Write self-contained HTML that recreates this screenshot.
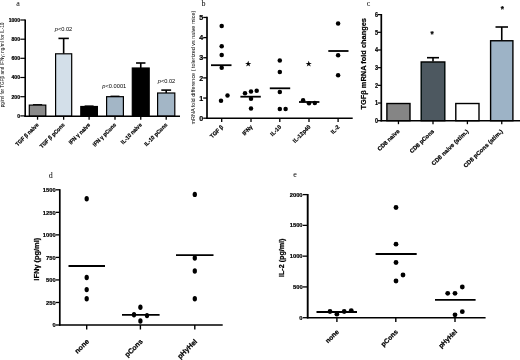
<!DOCTYPE html>
<html><head><meta charset="utf-8"><title>Figure</title>
<style>
html,body{margin:0;padding:0;background:#fff}
svg{display:block}
text{fill:#000}
.s{font-family:"Liberation Sans",sans-serif}
.b{font-weight:bold;stroke:#000;stroke-width:0.22px}
.r{font-family:"Liberation Serif",serif}
.d{font-family:"DejaVu Sans",sans-serif}
ellipse{fill:#000}
</style></head>
<body>
<svg width="520" height="360" viewBox="0 0 520 360">
<defs><filter id="soft" x="0" y="0" width="520" height="360" filterUnits="userSpaceOnUse"><feGaussianBlur stdDeviation="0.45"/></filter></defs>
<rect x="0" y="0" width="520" height="360" fill="#fff"/>
<g filter="url(#soft)">
<g id="panel-a">
<text class="r" x="16.3" y="6.2" font-size="8">a</text>
<line x1="37.55" y1="104.9" x2="37.55" y2="105.1" stroke="#000" stroke-width="1.6"/>
<line x1="32.95" y1="104.9" x2="42.15" y2="104.9" stroke="#000" stroke-width="1.6"/>
<rect x="29.3" y="105.1" width="16.5" height="11.1" fill="#8a8a8a" stroke="#000" stroke-width="1.2"/>
<line x1="37.55" y1="116.2" x2="37.55" y2="119.7" stroke="#000" stroke-width="1.3"/>
<text class="s b" transform="translate(39.05 125.3) rotate(-45) scale(0.920 1)" font-size="5.7" text-anchor="end">TGF β naive</text>
<line x1="63.65" y1="38.4" x2="63.65" y2="53.8" stroke="#000" stroke-width="1.6"/>
<line x1="58.45" y1="38.4" x2="68.85" y2="38.4" stroke="#000" stroke-width="1.6"/>
<rect x="55.6" y="53.8" width="16.1" height="62.4" fill="#d3dfe9" stroke="#000" stroke-width="1.2"/>
<line x1="63.65" y1="116.2" x2="63.65" y2="119.7" stroke="#000" stroke-width="1.3"/>
<text class="s b" transform="translate(65.15 125.3) rotate(-45) scale(0.920 1)" font-size="5.7" text-anchor="end">TGF β pCons</text>
<line x1="89.1" y1="106.2" x2="89.1" y2="106.5" stroke="#000" stroke-width="1.6"/>
<line x1="84.6" y1="106.2" x2="93.6" y2="106.2" stroke="#000" stroke-width="1.6"/>
<rect x="80.8" y="106.5" width="16.6" height="9.7" fill="#000" stroke="#000" stroke-width="1.2"/>
<line x1="89.1" y1="116.2" x2="89.1" y2="119.7" stroke="#000" stroke-width="1.3"/>
<text class="s b" transform="translate(90.6 125.3) rotate(-45) scale(0.920 1)" font-size="5.7" text-anchor="end">IFN γ naive</text>
<line x1="115" y1="96.4" x2="115" y2="96.7" stroke="#000" stroke-width="1.6"/>
<line x1="110.5" y1="96.4" x2="119.5" y2="96.4" stroke="#000" stroke-width="1.6"/>
<rect x="106.6" y="96.7" width="16.8" height="19.5" fill="#a3b6c6" stroke="#000" stroke-width="1.2"/>
<line x1="115" y1="116.2" x2="115" y2="119.7" stroke="#000" stroke-width="1.3"/>
<text class="s b" transform="translate(116.5 125.3) rotate(-45) scale(0.920 1)" font-size="5.7" text-anchor="end">IFN γ pCons</text>
<line x1="140.75" y1="63" x2="140.75" y2="68" stroke="#000" stroke-width="1.6"/>
<line x1="136.05" y1="63" x2="145.45" y2="63" stroke="#000" stroke-width="1.6"/>
<rect x="132.3" y="68" width="16.9" height="48.2" fill="#000" stroke="#000" stroke-width="1.2"/>
<line x1="140.75" y1="116.2" x2="140.75" y2="119.7" stroke="#000" stroke-width="1.3"/>
<text class="s b" transform="translate(142.25 125.3) rotate(-45) scale(0.920 1)" font-size="5.7" text-anchor="end">IL-10 naive</text>
<line x1="166.2" y1="90.1" x2="166.2" y2="93" stroke="#000" stroke-width="1.6"/>
<line x1="161.3" y1="90.1" x2="171.1" y2="90.1" stroke="#000" stroke-width="1.6"/>
<rect x="157.6" y="93" width="17.2" height="23.2" fill="#a3b6c6" stroke="#000" stroke-width="1.2"/>
<line x1="166.2" y1="116.2" x2="166.2" y2="119.7" stroke="#000" stroke-width="1.3"/>
<text class="s b" transform="translate(167.7 125.3) rotate(-45) scale(0.920 1)" font-size="5.7" text-anchor="end">IL-10 pCons</text>
<line x1="25.2" y1="19.4" x2="25.2" y2="116.9" stroke="#000" stroke-width="1.6"/>
<line x1="24.4" y1="116.2" x2="180" y2="116.2" stroke="#000" stroke-width="1.5"/>
<line x1="20.3" y1="20" x2="25.2" y2="20" stroke="#000" stroke-width="1.2"/>
<text class="s b" transform="translate(20 21.9) scale(0.940 1)" font-size="5.4" text-anchor="end">1000</text>
<line x1="20.3" y1="39.2" x2="25.2" y2="39.2" stroke="#000" stroke-width="1.2"/>
<text class="s b" transform="translate(20 41.1) scale(0.940 1)" font-size="5.4" text-anchor="end">800</text>
<line x1="20.3" y1="58.3" x2="25.2" y2="58.3" stroke="#000" stroke-width="1.2"/>
<text class="s b" transform="translate(20 60.2) scale(0.940 1)" font-size="5.4" text-anchor="end">600</text>
<line x1="20.3" y1="77.5" x2="25.2" y2="77.5" stroke="#000" stroke-width="1.2"/>
<text class="s b" transform="translate(20 79.4) scale(0.940 1)" font-size="5.4" text-anchor="end">400</text>
<line x1="20.3" y1="96.7" x2="25.2" y2="96.7" stroke="#000" stroke-width="1.2"/>
<text class="s b" transform="translate(20 98.6) scale(0.940 1)" font-size="5.4" text-anchor="end">200</text>
<line x1="20.3" y1="115.9" x2="25.2" y2="115.9" stroke="#000" stroke-width="1.2"/>
<text class="s b" transform="translate(20 117.8) scale(0.940 1)" font-size="5.4" text-anchor="end">0</text>
<text class="s" transform="translate(4.2 64.9) rotate(-90) scale(0.923 1)" font-size="5.1" text-anchor="middle">pg/ml for TGFβ and IFNγ; ng/ml for IL-10</text>
<text class="s" x="63.5" y="31" font-size="5.7" text-anchor="middle"><tspan font-style="italic">p</tspan>&lt;0.02</text>
<text class="s" x="114.3" y="88.4" font-size="5.7" text-anchor="middle"><tspan font-style="italic">p</tspan>&lt;0.0001</text>
<text class="s" x="166.5" y="83" font-size="5.7" text-anchor="middle"><tspan font-style="italic">p</tspan>&lt;0.02</text>
</g>
<g id="panel-b">
<text class="r" x="201.5" y="6" font-size="8">b</text>
<line x1="203.2" y1="118.2" x2="207" y2="118.2" stroke="#000" stroke-width="1.3"/>
<text class="s b" transform="translate(203.1 120.85) scale(0.950 1)" font-size="7.5" text-anchor="end">0</text>
<line x1="203.2" y1="98.05" x2="207" y2="98.05" stroke="#000" stroke-width="1.3"/>
<text class="s b" transform="translate(203.1 100.7) scale(0.950 1)" font-size="7.5" text-anchor="end">1</text>
<line x1="203.2" y1="77.9" x2="207" y2="77.9" stroke="#000" stroke-width="1.3"/>
<text class="s b" transform="translate(203.1 80.55) scale(0.950 1)" font-size="7.5" text-anchor="end">2</text>
<line x1="203.2" y1="57.75" x2="207" y2="57.75" stroke="#000" stroke-width="1.3"/>
<text class="s b" transform="translate(203.1 60.4) scale(0.950 1)" font-size="7.5" text-anchor="end">3</text>
<line x1="203.2" y1="37.6" x2="207" y2="37.6" stroke="#000" stroke-width="1.3"/>
<text class="s b" transform="translate(203.1 40.25) scale(0.950 1)" font-size="7.5" text-anchor="end">4</text>
<line x1="203.2" y1="17.45" x2="207" y2="17.45" stroke="#000" stroke-width="1.3"/>
<text class="s b" transform="translate(203.1 20.1) scale(0.950 1)" font-size="7.5" text-anchor="end">5</text>
<line x1="207" y1="16.85" x2="207" y2="118.9" stroke="#000" stroke-width="1.7"/>
<line x1="206.2" y1="118.2" x2="352.7" y2="118.2" stroke="#000" stroke-width="1.5"/>
<ellipse cx="221.7" cy="26" rx="2.25" ry="2.25"/>
<ellipse cx="221.7" cy="46.3" rx="2.25" ry="2.25"/>
<ellipse cx="221.7" cy="55" rx="2.25" ry="2.25"/>
<ellipse cx="221.7" cy="67.7" rx="2.25" ry="2.25"/>
<ellipse cx="227.5" cy="95.4" rx="2.25" ry="2.25"/>
<ellipse cx="221" cy="100.8" rx="2.25" ry="2.25"/>
<line x1="211" y1="65.2" x2="231.5" y2="65.2" stroke="#000" stroke-width="1.8"/>
<line x1="221.7" y1="118.2" x2="221.7" y2="121.9" stroke="#000" stroke-width="1.3"/>
<text class="s b" transform="translate(223.6 127.3) rotate(-45) scale(0.970 1)" font-size="5.7" text-anchor="end">TGF β</text>
<ellipse cx="245" cy="93.3" rx="2.25" ry="2.25"/>
<ellipse cx="251" cy="91.5" rx="2.25" ry="2.25"/>
<ellipse cx="256.7" cy="90.8" rx="2.25" ry="2.25"/>
<ellipse cx="251" cy="98.8" rx="2.25" ry="2.25"/>
<ellipse cx="251" cy="108.5" rx="2.25" ry="2.25"/>
<line x1="240.4" y1="96.7" x2="260.8" y2="96.7" stroke="#000" stroke-width="1.8"/>
<line x1="251" y1="118.2" x2="251" y2="121.9" stroke="#000" stroke-width="1.3"/>
<text class="s b" transform="translate(252.9 127.3) rotate(-45) scale(0.970 1)" font-size="5.7" text-anchor="end">IFNγ</text>
<ellipse cx="279.8" cy="60.4" rx="2.25" ry="2.25"/>
<ellipse cx="279.8" cy="72" rx="2.25" ry="2.25"/>
<ellipse cx="279.8" cy="91.9" rx="2.25" ry="2.25"/>
<ellipse cx="279.8" cy="109" rx="2.25" ry="2.25"/>
<ellipse cx="285.6" cy="109" rx="2.25" ry="2.25"/>
<line x1="269.8" y1="88.3" x2="290.2" y2="88.3" stroke="#000" stroke-width="1.8"/>
<line x1="279.8" y1="118.2" x2="279.8" y2="121.9" stroke="#000" stroke-width="1.3"/>
<text class="s b" transform="translate(281.7 127.3) rotate(-45) scale(0.970 1)" font-size="5.7" text-anchor="end">IL-10</text>
<ellipse cx="303.1" cy="100.2" rx="2.25" ry="2.25"/>
<ellipse cx="309" cy="103.3" rx="2.25" ry="2.25"/>
<ellipse cx="314.8" cy="103" rx="2.25" ry="2.25"/>
<line x1="299" y1="102" x2="319.4" y2="102" stroke="#000" stroke-width="1.8"/>
<line x1="309" y1="118.2" x2="309" y2="121.9" stroke="#000" stroke-width="1.3"/>
<text class="s b" transform="translate(310.9 127.3) rotate(-45) scale(0.970 1)" font-size="5.7" text-anchor="end">IL-12p40</text>
<ellipse cx="338.1" cy="23.5" rx="2.25" ry="2.25"/>
<ellipse cx="338.1" cy="55.2" rx="2.25" ry="2.25"/>
<ellipse cx="338.1" cy="75.2" rx="2.25" ry="2.25"/>
<line x1="328.3" y1="51" x2="348.5" y2="51" stroke="#000" stroke-width="1.8"/>
<line x1="338.1" y1="118.2" x2="338.1" y2="121.9" stroke="#000" stroke-width="1.3"/>
<text class="s b" transform="translate(340 127.3) rotate(-45) scale(0.970 1)" font-size="5.7" text-anchor="end">IL-2</text>
<text class="d" x="248.3" y="66.2" font-size="6.6" stroke="#000" stroke-width="0.35" text-anchor="middle">★</text>
<text class="d" x="308.6" y="66.2" font-size="6.6" stroke="#000" stroke-width="0.35" text-anchor="middle">★</text>
<text class="s" transform="translate(195.1 67.6) rotate(-90) scale(1.017 1)" font-size="5.4" text-anchor="middle">mRNA fold difference ( tolerized vs naive mice)</text>
</g>
<g id="panel-c">
<text class="r" x="366.8" y="5.8" font-size="8">c</text>
<rect x="386.9" y="103.52" width="23.1" height="17.18" fill="#858585" stroke="#000" stroke-width="1.4"/>
<line x1="398.45" y1="120.7" x2="398.45" y2="124.2" stroke="#000" stroke-width="1.3"/>
<text class="s b" transform="translate(399.95 131.8) rotate(-44)" font-size="5.8" text-anchor="end">CD8 naive</text>
<line x1="433" y1="57.7" x2="433" y2="61.47" stroke="#000" stroke-width="1.6"/>
<line x1="427" y1="57.7" x2="439" y2="57.7" stroke="#000" stroke-width="1.6"/>
<rect x="421.2" y="61.97" width="23.6" height="58.73" fill="#4e5860" stroke="#000" stroke-width="1.4"/>
<line x1="433" y1="120.7" x2="433" y2="124.2" stroke="#000" stroke-width="1.3"/>
<text class="s b" transform="translate(434.5 131.8) rotate(-44)" font-size="5.8" text-anchor="end">CD8 pCons</text>
<rect x="455.8" y="103.52" width="23.2" height="17.18" fill="#fff" stroke="#000" stroke-width="1.4"/>
<line x1="467.4" y1="120.7" x2="467.4" y2="124.2" stroke="#000" stroke-width="1.3"/>
<text class="s b" transform="translate(468.9 131.8) rotate(-44) scale(1.040 1)" font-size="5.8" text-anchor="end">CD8 naive (stim.)</text>
<line x1="501.75" y1="27" x2="501.75" y2="40.26" stroke="#000" stroke-width="1.6"/>
<line x1="495.5" y1="27" x2="508" y2="27" stroke="#000" stroke-width="1.6"/>
<rect x="490.6" y="40.76" width="22.3" height="79.94" fill="#9db3c6" stroke="#000" stroke-width="1.4"/>
<line x1="501.75" y1="120.7" x2="501.75" y2="124.2" stroke="#000" stroke-width="1.3"/>
<text class="s b" transform="translate(503.25 131.8) rotate(-44) scale(1.040 1)" font-size="5.8" text-anchor="end">CD8 pCons (stim.)</text>
<line x1="381.3" y1="14.02" x2="381.3" y2="121.4" stroke="#000" stroke-width="1.7"/>
<line x1="380.5" y1="120.7" x2="520" y2="120.7" stroke="#000" stroke-width="1.5"/>
<line x1="377.6" y1="120.7" x2="381.3" y2="120.7" stroke="#000" stroke-width="1.2"/>
<text class="s b" transform="translate(378 123.1) scale(0.850 1)" font-size="6.4" text-anchor="end">0</text>
<line x1="377.6" y1="103.02" x2="381.3" y2="103.02" stroke="#000" stroke-width="1.2"/>
<text class="s b" transform="translate(378 105.42) scale(0.850 1)" font-size="6.4" text-anchor="end">1</text>
<line x1="377.6" y1="85.34" x2="381.3" y2="85.34" stroke="#000" stroke-width="1.2"/>
<text class="s b" transform="translate(378 87.74) scale(0.850 1)" font-size="6.4" text-anchor="end">2</text>
<line x1="377.6" y1="67.66" x2="381.3" y2="67.66" stroke="#000" stroke-width="1.2"/>
<text class="s b" transform="translate(378 70.06) scale(0.850 1)" font-size="6.4" text-anchor="end">3</text>
<line x1="377.6" y1="49.98" x2="381.3" y2="49.98" stroke="#000" stroke-width="1.2"/>
<text class="s b" transform="translate(378 52.38) scale(0.850 1)" font-size="6.4" text-anchor="end">4</text>
<line x1="377.6" y1="32.3" x2="381.3" y2="32.3" stroke="#000" stroke-width="1.2"/>
<text class="s b" transform="translate(378 34.7) scale(0.850 1)" font-size="6.4" text-anchor="end">5</text>
<line x1="377.6" y1="14.62" x2="381.3" y2="14.62" stroke="#000" stroke-width="1.2"/>
<text class="s b" transform="translate(378 17.02) scale(0.850 1)" font-size="6.4" text-anchor="end">6</text>
<text class="s b" transform="translate(432 37.1)" font-size="8.2" text-anchor="middle">*</text>
<text class="s b" transform="translate(502.3 12.1)" font-size="8.2" text-anchor="middle">*</text>
<text class="s b" transform="translate(366.3 63.8) rotate(-90) scale(1.029 1)" font-size="7.2" text-anchor="middle">TGFβ mRNA fold changes</text>
</g>
<g id="panel-d">
<text class="r" x="48.8" y="177.5" font-size="8">d</text>
<line x1="55.8" y1="325" x2="59.8" y2="325" stroke="#000" stroke-width="1.3"/>
<text class="s b" transform="translate(55.6 327.2) scale(0.930 1)" font-size="6.2" text-anchor="end">0</text>
<line x1="55.8" y1="302.47" x2="59.8" y2="302.47" stroke="#000" stroke-width="1.3"/>
<text class="s b" transform="translate(55.6 304.67) scale(0.930 1)" font-size="6.2" text-anchor="end">250</text>
<line x1="55.8" y1="279.93" x2="59.8" y2="279.93" stroke="#000" stroke-width="1.3"/>
<text class="s b" transform="translate(55.6 282.13) scale(0.930 1)" font-size="6.2" text-anchor="end">500</text>
<line x1="55.8" y1="257.4" x2="59.8" y2="257.4" stroke="#000" stroke-width="1.3"/>
<text class="s b" transform="translate(55.6 259.6) scale(0.930 1)" font-size="6.2" text-anchor="end">750</text>
<line x1="55.8" y1="234.87" x2="59.8" y2="234.87" stroke="#000" stroke-width="1.3"/>
<text class="s b" transform="translate(55.6 237.07) scale(0.930 1)" font-size="6.2" text-anchor="end">1000</text>
<line x1="55.8" y1="212.33" x2="59.8" y2="212.33" stroke="#000" stroke-width="1.3"/>
<text class="s b" transform="translate(55.6 214.53) scale(0.930 1)" font-size="6.2" text-anchor="end">1250</text>
<line x1="55.8" y1="189.8" x2="59.8" y2="189.8" stroke="#000" stroke-width="1.3"/>
<text class="s b" transform="translate(55.6 192) scale(0.930 1)" font-size="6.2" text-anchor="end">1500</text>
<line x1="59.8" y1="189.2" x2="59.8" y2="325.7" stroke="#000" stroke-width="1.7"/>
<line x1="59" y1="325" x2="222.7" y2="325" stroke="#000" stroke-width="1.5"/>
<ellipse cx="86.7" cy="198.75" rx="2.15" ry="2.7"/>
<ellipse cx="86.7" cy="277.5" rx="2.15" ry="2.7"/>
<ellipse cx="86.7" cy="289.6" rx="2.15" ry="2.7"/>
<ellipse cx="86.7" cy="298.75" rx="2.15" ry="2.7"/>
<line x1="68.5" y1="266" x2="105" y2="266" stroke="#000" stroke-width="1.8"/>
<line x1="86.7" y1="325" x2="86.7" y2="329.5" stroke="#000" stroke-width="1.4"/>
<text class="s b" transform="translate(89.5 342) rotate(-45)" font-size="7.1" text-anchor="end">none</text>
<ellipse cx="140.4" cy="307.3" rx="2.15" ry="2.7"/>
<ellipse cx="134" cy="314.8" rx="2.15" ry="2.7"/>
<ellipse cx="147" cy="315.6" rx="2.15" ry="2.7"/>
<ellipse cx="140.4" cy="321" rx="2.15" ry="2.7"/>
<line x1="122" y1="314.8" x2="159.6" y2="314.8" stroke="#000" stroke-width="1.8"/>
<line x1="140.4" y1="325" x2="140.4" y2="329.5" stroke="#000" stroke-width="1.4"/>
<text class="s b" transform="translate(143.2 342) rotate(-45)" font-size="7.1" text-anchor="end">pCons</text>
<ellipse cx="194.8" cy="194.4" rx="2.15" ry="2.7"/>
<ellipse cx="194.8" cy="258" rx="2.15" ry="2.7"/>
<ellipse cx="194.8" cy="271" rx="2.15" ry="2.7"/>
<ellipse cx="194.8" cy="298.75" rx="2.15" ry="2.7"/>
<line x1="176" y1="255.2" x2="213.5" y2="255.2" stroke="#000" stroke-width="1.8"/>
<line x1="194.8" y1="325" x2="194.8" y2="329.5" stroke="#000" stroke-width="1.4"/>
<text class="s b" transform="translate(197.6 342) rotate(-45)" font-size="7.1" text-anchor="end">pHyHel</text>
<text class="s b" transform="translate(39.2 259.2) rotate(-90) scale(1.020 1)" font-size="7.3" text-anchor="middle">IFNγ (pg/ml)</text>
</g>
<g id="panel-e">
<text class="r" x="293.3" y="177" font-size="8">e</text>
<line x1="302.8" y1="317.7" x2="307.7" y2="317.7" stroke="#000" stroke-width="1.3"/>
<text class="s b" transform="translate(302.6 319.7)" font-size="5.8" text-anchor="end">0</text>
<line x1="302.8" y1="286.93" x2="307.7" y2="286.93" stroke="#000" stroke-width="1.3"/>
<text class="s b" transform="translate(302.6 288.93)" font-size="5.8" text-anchor="end">500</text>
<line x1="302.8" y1="256.15" x2="307.7" y2="256.15" stroke="#000" stroke-width="1.3"/>
<text class="s b" transform="translate(302.6 258.15)" font-size="5.8" text-anchor="end">1000</text>
<line x1="302.8" y1="225.38" x2="307.7" y2="225.38" stroke="#000" stroke-width="1.3"/>
<text class="s b" transform="translate(302.6 227.38)" font-size="5.8" text-anchor="end">1500</text>
<line x1="302.8" y1="194.6" x2="307.7" y2="194.6" stroke="#000" stroke-width="1.3"/>
<text class="s b" transform="translate(302.6 196.6)" font-size="5.8" text-anchor="end">2000</text>
<line x1="307.7" y1="194" x2="307.7" y2="318.4" stroke="#000" stroke-width="1.9"/>
<line x1="306.9" y1="317.7" x2="485.6" y2="317.7" stroke="#000" stroke-width="1.5"/>
<ellipse cx="330" cy="311.5" rx="2.4" ry="2.4"/>
<ellipse cx="336.9" cy="314.2" rx="2.4" ry="2.4"/>
<ellipse cx="344.2" cy="311.5" rx="2.4" ry="2.4"/>
<ellipse cx="351.25" cy="310.6" rx="2.4" ry="2.4"/>
<line x1="316.5" y1="312" x2="357" y2="312" stroke="#000" stroke-width="1.8"/>
<line x1="336.9" y1="317.7" x2="336.9" y2="322" stroke="#000" stroke-width="1.4"/>
<text class="s b" transform="translate(339.4 332.3) rotate(-45)" font-size="6.7" text-anchor="end">none</text>
<ellipse cx="396" cy="207.5" rx="2.4" ry="2.4"/>
<ellipse cx="396" cy="244.2" rx="2.4" ry="2.4"/>
<ellipse cx="396" cy="262.5" rx="2.4" ry="2.4"/>
<ellipse cx="403" cy="275" rx="2.4" ry="2.4"/>
<ellipse cx="396" cy="281" rx="2.4" ry="2.4"/>
<line x1="375.6" y1="254" x2="416.7" y2="254" stroke="#000" stroke-width="1.8"/>
<line x1="395.8" y1="317.7" x2="395.8" y2="322" stroke="#000" stroke-width="1.4"/>
<text class="s b" transform="translate(398.3 332.3) rotate(-45)" font-size="6.7" text-anchor="end">pCons</text>
<ellipse cx="447.7" cy="293.3" rx="2.4" ry="2.4"/>
<ellipse cx="455" cy="293.3" rx="2.4" ry="2.4"/>
<ellipse cx="462.3" cy="287" rx="2.4" ry="2.4"/>
<ellipse cx="455" cy="314.8" rx="2.4" ry="2.4"/>
<ellipse cx="462.3" cy="311.7" rx="2.4" ry="2.4"/>
<line x1="435" y1="299.8" x2="475.6" y2="299.8" stroke="#000" stroke-width="1.8"/>
<line x1="455" y1="317.7" x2="455" y2="322" stroke="#000" stroke-width="1.4"/>
<text class="s b" transform="translate(457.5 332.3) rotate(-45)" font-size="6.7" text-anchor="end">pHyHel</text>
<text class="s b" transform="translate(284.3 257.8) rotate(-90) scale(1.021 1)" font-size="7.0" text-anchor="middle">IL-2 (pg/ml)</text>
</g>
</g>
</svg>
</body></html>
